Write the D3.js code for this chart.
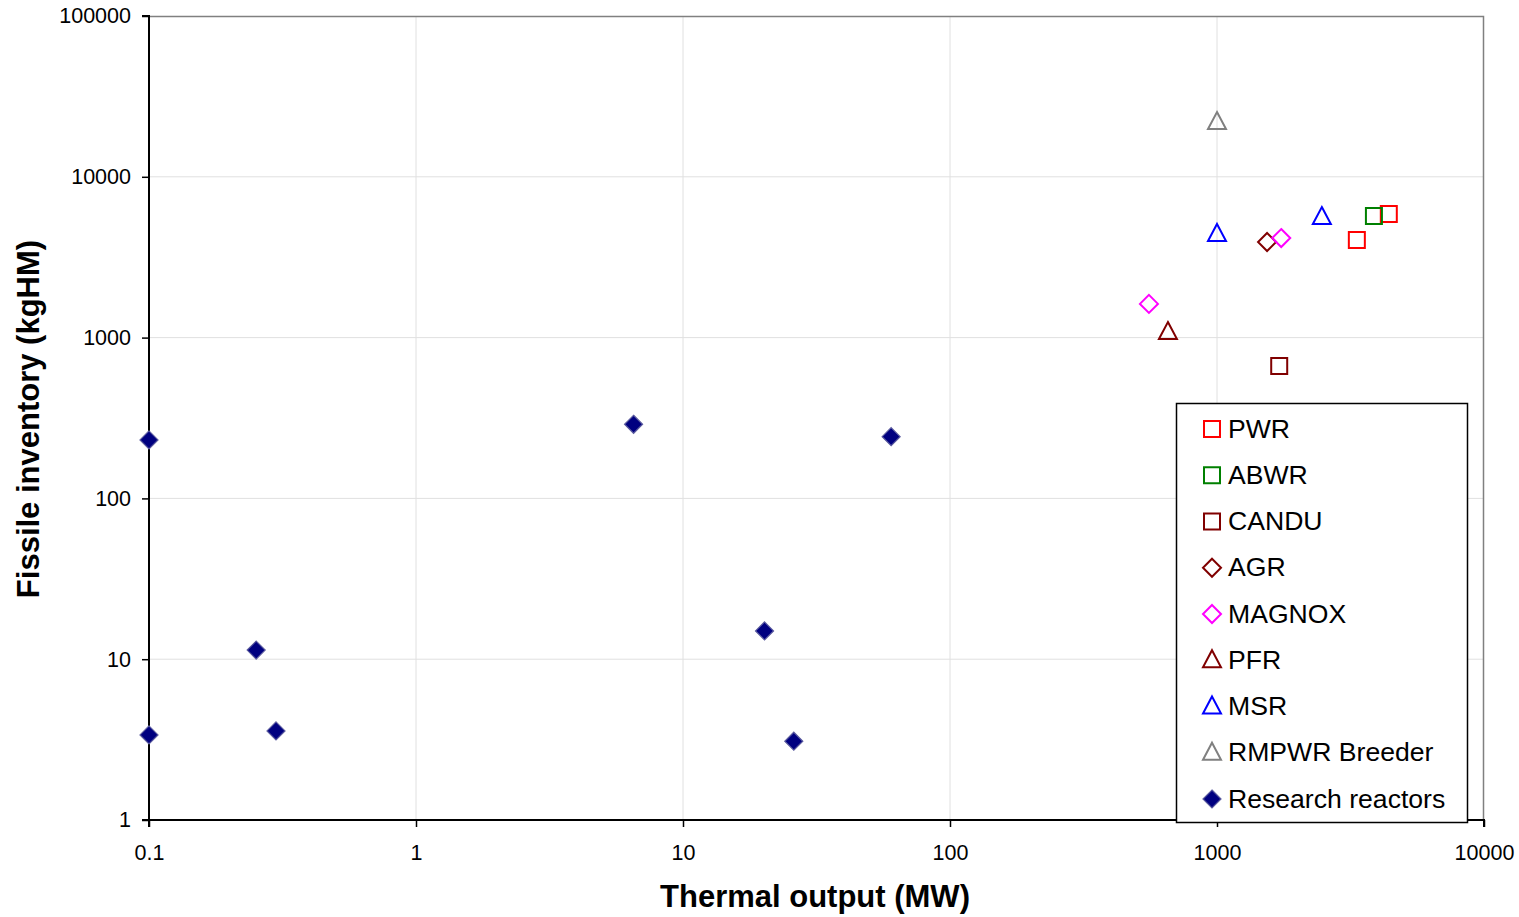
<!DOCTYPE html>
<html><head><meta charset="utf-8">
<script src="https://cdn.jsdelivr.net/npm/d3@7"></script>
<style>body{margin:0;background:#fff;} svg{display:block;font-family:"Liberation Sans",Arial,sans-serif;}</style>
</head><body><svg id="c" width="1519" height="917"></svg>
<script>
// Data (thermal output MW, fissile inventory kgHM)
const seriesNames = ["PWR","ABWR","CANDU","AGR","MAGNOX","PFR","MSR","RMPWR Breeder","Research reactors"];
const seriesColors = ["#FF0000","#008000","#800000","#800000","#FF00FF","#800000","#0000FF","#808080","#000080"];
const seriesShapes = ["square","square","square","diamond","diamond","triangle","triangle","triangle","filledDiamond"];
const pwrX = [4400, 3340];          const pwrY = [5870, 4050];
const abwrX = [3870];               const abwrY = [5700];
const canduX = [1710];              const canduY = [666];
const agrX = [1540];                const agrY = [3930];
const magnoxX = [1740, 556];        const magnoxY = [4160, 1620];
const pfrX = [655];                 const pfrY = [1083];
const msrX = [1000, 2470];          const msrY = [4410, 5620];
const rmpwrX = [1000];              const rmpwrY = [21900];
const researchX = [0.1, 0.1, 0.252, 0.299, 6.53, 60.2, 20.2, 26.0];
const researchY = [231, 3.38, 11.4, 3.58, 289, 242, 15.0, 3.09];
const xTicks = [0.1, 1, 10, 100, 1000, 10000];
const yTicks = [1, 10, 100, 1000, 10000, 100000];
const xTickLabels = ["0.1","1","10","100","1000","10000"];
const yTickLabels = ["1","10","100","1000","10000","100000"];
const xTitle = "Thermal output (MW)";
const yTitle = "Fissile inventory (kgHM)";

const allX = [pwrX,abwrX,canduX,agrX,magnoxX,pfrX,msrX,rmpwrX,researchX];
const allY = [pwrY,abwrY,canduY,agrY,magnoxY,pfrY,msrY,rmpwrY,researchY];

const L=149, R=1484, T=16, B=820;
const svg = d3.select("#c");
const x = d3.scaleLog().domain([0.1,10000]).range([L,R]);
const y = d3.scaleLog().domain([1,100000]).range([B,T]);

// gridlines
svg.append("g").selectAll("line").data(xTicks.slice(1,-1)).join("line")
  .attr("x1",d=>x(d)).attr("x2",d=>x(d)).attr("y1",T).attr("y2",B)
  .attr("stroke","#e0e0e0").attr("stroke-width",1);
svg.append("g").selectAll("line").data(yTicks.slice(1,-1)).join("line")
  .attr("y1",d=>y(d)).attr("y2",d=>y(d)).attr("x1",L).attr("x2",R)
  .attr("stroke","#e0e0e0").attr("stroke-width",1);
// plot border top/right
svg.append("path").attr("d",`M${L},${T+0.5}H${R-0.5}V${B}`).attr("fill","none").attr("stroke","#808080").attr("stroke-width",1.5);

// axes
const xAxis = d3.axisBottom(x).tickValues(xTicks).tickFormat((d,i)=>xTickLabels[i]).tickSize(7).tickPadding(18);
const yAxis = d3.axisLeft(y).tickValues(yTicks).tickFormat((d,i)=>yTickLabels[i]).tickSize(7).tickPadding(11);
const gx = svg.append("g").attr("transform",`translate(0,${B})`).call(xAxis);
const gy = svg.append("g").attr("transform",`translate(${L},0)`).call(yAxis);
[gx,gy].forEach(g=>{
  g.select(".domain").attr("stroke","#000").attr("stroke-width",2);
  g.selectAll(".tick line").attr("stroke","#000").attr("stroke-width",1.5);
  g.selectAll("text").attr("font-size",21.5).attr("fill","#000").attr("font-family","Liberation Sans, Arial, sans-serif");
});
gy.select(".domain").attr("d",`M-7,${T}H0V${B}H-7`);
gx.select(".domain").attr("d",`M${L},7V0H${R}V7`);

// titles
svg.append("text").attr("x",815).attr("y",907).attr("text-anchor","middle")
  .attr("font-size",31).attr("font-weight","bold").text(xTitle);
svg.append("text").attr("transform","translate(39,419) rotate(-90)").attr("text-anchor","middle")
  .attr("font-size",31).attr("font-weight","bold").text(yTitle);

function shapePath(shape){
  if(shape==="square") return "M-8,-8H8V8H-8Z";
  if(shape==="diamond"||shape==="filledDiamond") return "M0,-9L9,0L0,9L-9,0Z";
  if(shape==="triangle") return "M0,-10L9,7H-9Z";
}
function drawMarker(g, shape, color){
  const p = g.append("path").attr("d",shapePath(shape));
  if(shape==="filledDiamond") p.attr("fill",color).attr("stroke","#5a5a9e").attr("stroke-width",1.2);
  else p.attr("fill","none").attr("stroke",color).attr("stroke-width",2);
}

// points
seriesNames.forEach((n,i)=>{
  const g = svg.append("g");
  allX[i].forEach((xv,j)=>{
    const m = g.append("g").attr("transform",`translate(${x(xv)},${y(allY[i][j])})`);
    drawMarker(m, seriesShapes[i], seriesColors[i]);
  });
});

// legend
const lg = svg.append("g");
lg.append("rect").attr("x",1176.5).attr("y",403.5).attr("width",291).attr("height",419)
  .attr("fill","#fff").attr("stroke","#000").attr("stroke-width",1.5);
const legY = d3.scaleLinear().domain([0,8]).range([428,798]);
seriesNames.forEach((n,i)=>{
  const item = lg.append("g").attr("transform",`translate(0,${legY(i)})`);
  const m = item.append("g").attr("transform","translate(1212,1)");
  drawMarker(m, seriesShapes[i], seriesColors[i]);
  item.append("text").attr("x",1228).attr("y",9.5).attr("font-size",26.6).attr("fill","#000").text(n);
});
</script></body></html>
